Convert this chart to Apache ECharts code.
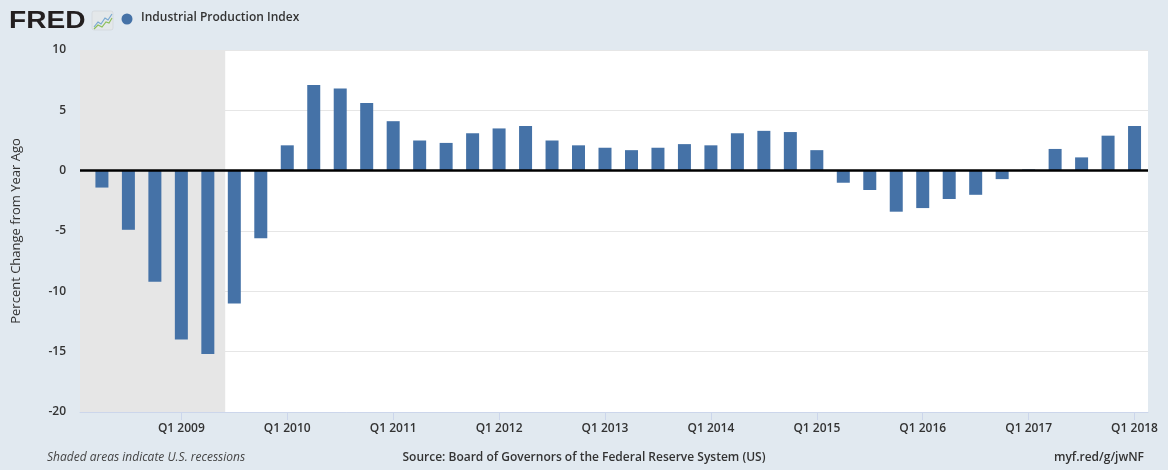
<!DOCTYPE html>
<html lang="en">
<head>
    <meta charset="UTF-8">
    <title>Industrial Production Index</title>
    <script src="https://cdn.jsdelivr.net/npm/echarts@6.0.0/dist/echarts.min.js"></script>
    <style>
        html,body{
            margin: 0;
            padding: 0;
            width: 100%;
            height: 100%;
            background: #e1e9f0;
        }
        #chart{
            width: 1168px;
            height: 470px;
        }
    </style>
</head>
<body>
<div id="chart"></div>
<script type="text/javascript">
    // quarterly data, percent change from year ago
    var quarters = ['2008Q2', '2008Q3', '2008Q4',
        '2009Q1', '2009Q2', '2009Q3', '2009Q4',
        '2010Q1', '2010Q2', '2010Q3', '2010Q4',
        '2011Q1', '2011Q2', '2011Q3', '2011Q4',
        '2012Q1', '2012Q2', '2012Q3', '2012Q4',
        '2013Q1', '2013Q2', '2013Q3', '2013Q4',
        '2014Q1', '2014Q2', '2014Q3', '2014Q4',
        '2015Q1', '2015Q2', '2015Q3', '2015Q4',
        '2016Q1', '2016Q2', '2016Q3', '2016Q4',
        '2017Q1', '2017Q2', '2017Q3', '2017Q4',
        '2018Q1'];
    var values = [-1.4, -4.9, -9.2,
        -14.0, -15.2, -11.0, -5.6,
        2.1, 7.1, 6.8, 5.6,
        4.1, 2.5, 2.3, 3.1,
        3.5, 3.7, 2.5, 2.1,
        1.9, 1.7, 1.9, 2.2,
        2.1, 3.1, 3.3, 3.2,
        1.7, -1.0, -1.6, -3.4,
        -3.1, -2.35, -2.0, -0.7,
        0.1, 1.8, 1.1, 2.9,
        3.7];
    var tickYears = [2009, 2010, 2011, 2012, 2013, 2014, 2015, 2016, 2017, 2018];
    // recession: Dec 2007 - Jun 2009
    var recession = [2007.92, 2009.414];

    var xMin = 2008.043;
    var xMax = 2018.127;

    function quarterToYear(q) {
        var y = parseInt(q.substring(0, 4), 10);
        var n = parseInt(q.substring(5), 10);
        return y + (n - 1) / 4;
    }

    var barData = [];
    for (var i = 0, len = quarters.length; i < len; i++) {
        barData.push([quarterToYear(quarters[i]), values[i]]);
    }

    var font = '"Open Sans", Lato, sans-serif';
    var myChart = echarts.init(document.getElementById('chart'));
    var option = {
        backgroundColor: '#e1e9f0',
        animation: false,
        textStyle: { fontFamily: font },
        grid: {
            left: 80,
            right: 20,
            top: 50,
            bottom: 58,
            show: true,
            backgroundColor: '#ffffff',
            borderWidth: 0,
            outerBoundsMode: 'none'
        },
        graphic: [
            {
                type: 'text', x: 9, y: 9, scaleX: 1.17,
                style: { text: 'FRED', fontFamily: '"Liberation Sans", Arial, sans-serif', fontWeight: 'bold', fontSize: 24, fill: '#231f20' }
            },
            {
                type: 'rect', shape: { x: 92, y: 11, width: 21, height: 19, r: 2 },
                style: { fill: '#e4e8ea', stroke: '#c9cfd3', lineWidth: 0.5 }
            },
            {
                type: 'polyline', shape: { points: [[94, 27], [98, 22], [101, 24], [105, 18], [108, 20], [112, 14]] },
                style: { stroke: '#79a9d1', lineWidth: 1.2, fill: null }
            },
            {
                type: 'polyline', shape: { points: [[94, 29], [98, 25], [102, 27], [106, 22], [109, 23], [112, 18]] },
                style: { stroke: '#8cbf5a', lineWidth: 1.2, fill: null }
            },
            {
                type: 'circle', shape: { cx: 127, cy: 19, r: 5.5 },
                style: { fill: '#4572a7' }
            },
            {
                type: 'text', left: 141, top: 12,
                style: { text: 'Industrial Production Index', fontFamily: font, fontWeight: 600, fontSize: 12, fill: '#333333' }
            },
            {
                type: 'text', left: 47, top: 452,
                style: { text: 'Shaded areas indicate U.S. recessions', fontFamily: font, fontStyle: 'italic', fontSize: 12, fill: '#444444' }
            },
            {
                type: 'text', left: 'center', top: 452,
                style: { text: 'Source: Board of Governors of the Federal Reserve System (US)', fontFamily: font, fontWeight: 600, fontSize: 12, fill: '#333333' }
            },
            {
                type: 'text', right: 24, top: 452,
                style: { text: 'myf.red/g/jwNF', fontFamily: font, fontWeight: 600, fontSize: 12, fill: '#333333' }
            }
        ],
        xAxis: {
            type: 'value',
            min: xMin,
            max: xMax,
            axisLine: { show: true, onZero: false, lineStyle: { color: '#ccd6eb', width: 1 } },
            axisTick: { show: true, length: 8, customValues: tickYears, lineStyle: { color: '#ccd6eb' } },
            axisLabel: {
                customValues: tickYears,
                margin: 11,
                color: '#333333',
                fontSize: 12,
                fontWeight: 600,
                fontFamily: font,
                formatter: function (v) { return 'Q1 ' + Math.round(v); }
            },
            splitLine: { show: false }
        },
        yAxis: {
            type: 'value',
            min: -20,
            max: 10,
            interval: 5,
            name: 'Percent Change from Year Ago',
            nameLocation: 'middle',
            nameGap: 57,
            nameTextStyle: { color: '#333333', fontSize: 13, fontFamily: font },
            axisLine: { show: false },
            axisTick: { show: false },
            axisLabel: { color: '#333333', fontSize: 12, fontWeight: 600, fontFamily: font, margin: 14 },
            splitLine: { show: true, lineStyle: { color: '#e6e6e6', width: 1 } }
        },
        series: [
            {
                name: 'recession',
                type: 'line',
                data: [],
                z: 1,
                markArea: {
                    silent: true,
                    itemStyle: { color: '#e6e6e6' },
                    data: [[{ xAxis: Math.max(recession[0], xMin) }, { xAxis: recession[1] }]]
                }
            },
            {
                name: 'Industrial Production Index',
                type: 'bar',
                barWidth: 13,
                z: 3,
                itemStyle: { color: '#4572a7' },
                data: barData,
                markLine: {
                    silent: true,
                    symbol: 'none',
                    label: { show: false },
                    lineStyle: { color: '#000000', width: 2.5, type: 'solid' },
                    data: [{ yAxis: 0 }]
                }
            }
        ]
    };
    myChart.setOption(option);
</script>
</body>
</html>
